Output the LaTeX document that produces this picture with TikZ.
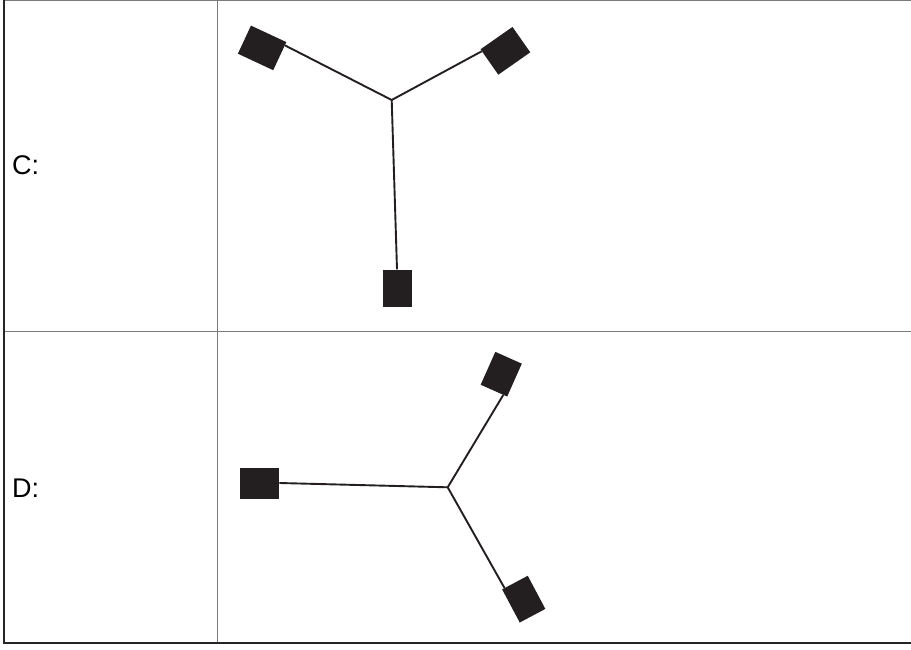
\documentclass[tikz,border=0pt]{standalone}
\usepackage{fontspec}
\setmainfont{Liberation Sans}
\usetikzlibrary{calc}
\definecolor{rule}{HTML}{7A7A7A}
\definecolor{edge}{HTML}{262626}
\definecolor{padfill}{HTML}{231F20}

\begin{document}
\begin{tikzpicture}[x=1pt,y=-1pt,
  pad/.style={fill=padfill,inner sep=0pt,minimum width=38pt,minimum height=30pt},
  arm/.style={draw=padfill,line width=1.9pt,line join=round},
  lbl/.style={anchor=base west,inner sep=0pt,font=\fontsize{27}{32}\selectfont}]
\useasboundingbox (0,0) rectangle (911,650);
% table
\draw[rule,line width=1.3pt] (3,0.7) -- (911,0.7);
\draw[rule,line width=1.5pt] (3,331.6) -- (911,331.6);
\draw[rule,line width=1.4pt] (217.7,0) -- (217.7,643);
\draw[edge,line width=2pt] (3.5,0) -- (3.5,643.6);
\draw[edge,line width=2.2pt] (2.5,642.7) -- (911,642.7);
\node[lbl] (c) at (12,175) {C:};
\node[lbl] (d) at (12,497) {D:};
% C
\coordinate (cj) at (391.7,100);
\node[pad,rotate=-25,minimum width=39pt,minimum height=31pt] (ca) at (262.1,47.9) {};
\node[pad,rotate=35,minimum width=39pt,minimum height=31pt] (cb) at (505.4,50.8) {};
\node[pad,rotate=90,minimum width=37pt,minimum height=29pt] (cc) at (397,288) {};
\draw[arm] ($(ca.north east)!0.12!(ca.south east)$) -- (cj) -- ($(cb.north west)!0.08!(cb.south west)$);
\draw[arm] (cj) -- (cc.east);
% D
\coordinate (dj) at (447.7,487.3);
\node[pad,minimum width=39pt,minimum height=31pt] (da) at (259.7,483) {};
\node[pad,rotate=66,minimum width=36pt,minimum height=29pt] (db) at (501.25,374.2) {};
\node[pad,rotate=-62,minimum width=37.5pt,minimum height=29pt] (dc) at (523.75,599.15) {};
\draw[arm] (da.east) -- (dj) -- ($(db.north west)!0.85!(db.south west)$);
\draw[arm] (dj) -- ($(dc.north west)!0.9!(dc.south west)$);
\end{tikzpicture}
\end{document}
